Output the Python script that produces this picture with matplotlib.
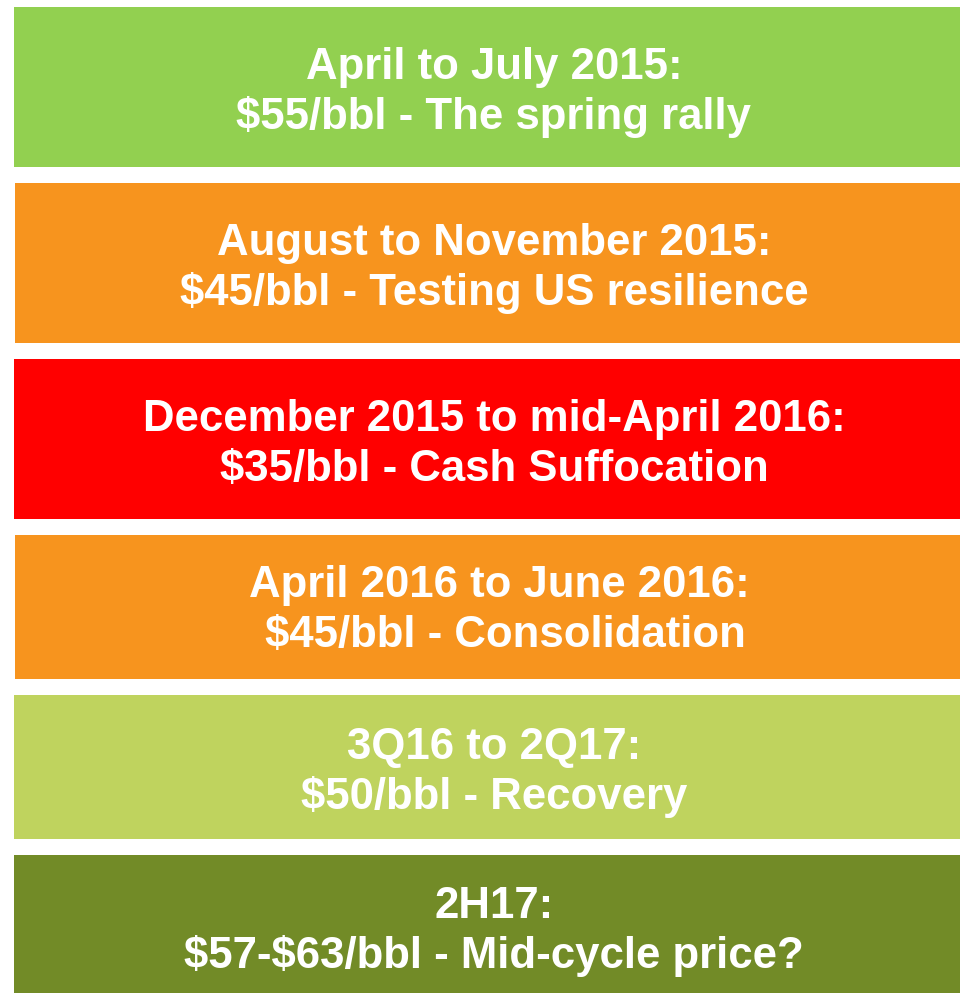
import matplotlib.pyplot as plt
from matplotlib.patches import Rectangle

# periods, price text and colours, top to bottom
periods = ['April to July 2015:', 'August to November 2015:',
           'December 2015 to mid-April 2016:', 'April 2016 to June 2016:',
           '3Q16 to 2Q17:', '2H17:']
prices = ['$55/bbl - The spring rally', '$45/bbl - Testing US resilience',
          '$35/bbl - Cash Suffocation', ' $45/bbl - Consolidation',
          '$50/bbl - Recovery', '$57-$63/bbl - Mid-cycle price?']
colors = ['#92D050', '#F7941E', '#FF0000', '#F7941E', '#BFD35E', '#728B27']

# box edges in pixels
tops = [7, 183, 359, 535, 695, 855]
bottoms = [167, 343, 519, 679, 839, 993]
lefts = [14, 15, 14, 15, 14, 14]
# text centre x and first-line y for each box
text_x = [494, 494, 494, 499, 494, 494]
text_y = [67, 243, 419, 585, 747, 906]

fig = plt.figure(figsize=(9.6, 9.93), dpi=100)
ax = fig.add_axes([0, 0, 1, 1])
ax.set_xlim(0, 960)
ax.set_ylim(993, 0)
ax.axis('off')

for i in range(len(periods)):
    ax.add_patch(Rectangle((lefts[i], tops[i]), 960 - lefts[i], bottoms[i] - tops[i],
                           color=colors[i], lw=0))
    ax.text(text_x[i], text_y[i], periods[i], ha='center', va='center', color='white',
            fontsize=31.5, fontweight='bold', family='Liberation Sans',
            parse_math=False)
    ax.text(text_x[i], text_y[i] + 50, prices[i], ha='center', va='center', color='white',
            fontsize=31.5, fontweight='bold', family='Liberation Sans',
            parse_math=False)

plt.savefig('out.png', dpi=100)
